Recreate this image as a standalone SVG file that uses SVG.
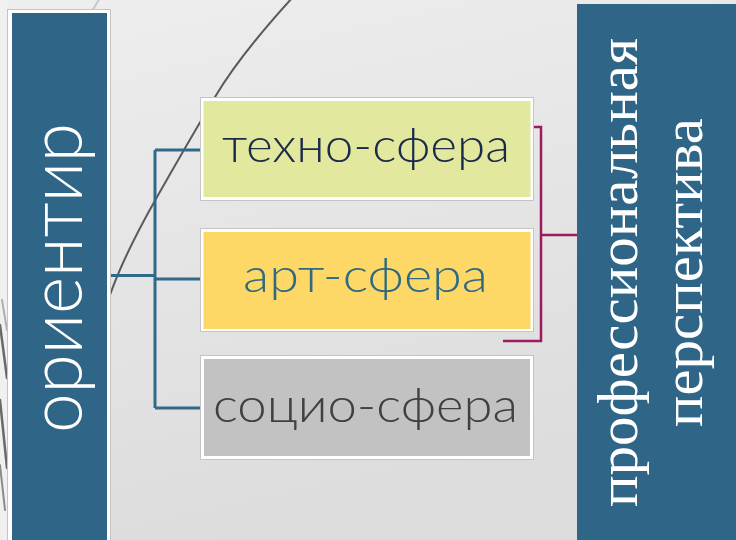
<svg xmlns="http://www.w3.org/2000/svg" width="736" height="540" viewBox="0 0 736 540">
  <defs>
    <linearGradient id="bg" x1="0" y1="0" x2="0.3" y2="1">
      <stop offset="0" stop-color="#eeeeee"/>
      <stop offset="1" stop-color="#dcdcdc"/>
    </linearGradient>
    <style>
      .frame { fill: #ffffff; stroke: #c4c4c4; stroke-width: 1; }
      .sans { font-family: Lato, "Liberation Sans", sans-serif; font-weight: 300; }
      .serif { font-family: "Liberation Serif", "DejaVu Serif", serif; }
      .boxtxt { font-size: 47px; text-anchor: middle; }
      .blue { stroke: #2E6A8A; stroke-width: 3; fill: none; }
      .maroon { stroke: #9B1B5E; stroke-width: 2.5; fill: none; }
    </style>
  </defs>

  <!-- background -->
  <rect x="0" y="0" width="736" height="540" fill="url(#bg)"/>
  <rect x="0" y="0" width="8" height="540" fill="#f0f0f0"/>
  <g id="decor" fill="none" stroke-linecap="round">
    <path d="M0 325 L7 378" stroke="#6a6a6a" stroke-width="2.5"/>
    <path d="M0 400 L7 468" stroke="#6a6a6a" stroke-width="2.5"/>
    <path d="M0 465 L5 510" stroke="#8a8a8a" stroke-width="2"/>
    <path d="M2 300 L7 330" stroke="#b0b0b0" stroke-width="2"/>
    <path d="M101 -4 L88 18" stroke="#c8c8c8" stroke-width="2"/>
    <path d="M293 -3 Q 240 55 215 97 T 157 197 T 110 295" stroke="#5a5a5a" stroke-width="2"/>
  </g>

  <!-- connectors -->
  <g id="connectors">
    <path class="blue" d="M111 275.5 H155"/>
    <path class="blue" d="M155 150 V408"/>
    <path class="blue" d="M155 150 H201"/>
    <path class="blue" d="M155 279 H201"/>
    <path class="blue" d="M155 408 H201"/>
    <path class="maroon" d="M498 127 H541 V341 H503"/>
    <path class="maroon" d="M541 235 H578"/>
  </g>

  <!-- left node -->
  <g id="orientir">
    <rect class="frame" x="7.5" y="9.5" width="103" height="540"/>
    <rect x="12" y="13" width="95" height="530" fill="#2F6586"/>
    <text class="sans" transform="translate(82,278) rotate(-90)" font-size="74" fill="#ffffff" text-anchor="middle" textLength="310" lengthAdjust="spacingAndGlyphs">ориентир</text>
  </g>

  <!-- middle nodes -->
  <g id="techno">
    <rect class="frame" x="200.5" y="97.5" width="333" height="103"/>
    <rect x="203.5" y="101" width="327" height="96" fill="#E2E89E"/>
    <text class="sans boxtxt" x="366" y="162" fill="#1B2A4A" textLength="288" lengthAdjust="spacingAndGlyphs">техно-сфера</text>
  </g>
  <g id="art">
    <rect class="frame" x="200.5" y="228.5" width="333" height="103"/>
    <rect x="203.5" y="232" width="327" height="97" fill="#FDD867"/>
    <text class="sans boxtxt" x="365.5" y="292" fill="#2F6A80" textLength="245" lengthAdjust="spacingAndGlyphs">арт-сфера</text>
  </g>
  <g id="socio">
    <rect class="frame" x="200.5" y="355.5" width="333" height="104"/>
    <rect x="204" y="359" width="326" height="97" fill="#C2C2C2"/>
    <text class="sans boxtxt" x="365.5" y="422" fill="#404040" textLength="305" lengthAdjust="spacingAndGlyphs">социо-сфера</text>
  </g>

  <!-- right node -->
  <g id="perspektiva">
    <rect x="577" y="4" width="160" height="540" fill="#2F6586"/>
    <text class="serif" transform="translate(637,272.5) rotate(-90)" font-size="57" fill="#ffffff" text-anchor="middle" textLength="469" lengthAdjust="spacingAndGlyphs">профессиональная</text>
    <text class="serif" transform="translate(702,272.5) rotate(-90)" font-size="57" fill="#ffffff" text-anchor="middle" textLength="309" lengthAdjust="spacingAndGlyphs">перспектива</text>
  </g>
</svg>
